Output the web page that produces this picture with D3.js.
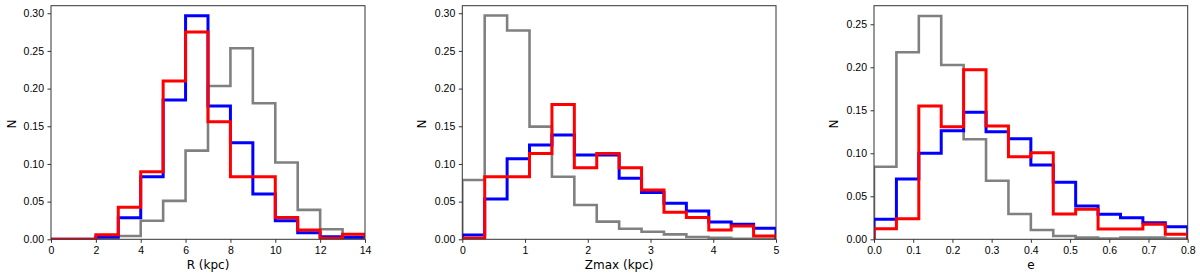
<!DOCTYPE html>
<html>
<head>
<meta charset="utf-8">
<script src="https://cdn.jsdelivr.net/npm/d3@7"></script>
<style>
  body { margin: 0; background: #fff; }
  svg { display: block; font-family: "DejaVu Sans", sans-serif; }
  .axis path, .axis line { stroke: #333; }
  .axis text { font-size: 10.5px; fill: #000; }
  .label { font-size: 12px; fill: #000; }
</style>
</head>
<body>
<svg width="1200" height="273"></svg>
<script>
// per-bin histogram heights (14 bins each)
var rGray = [0, 0, 0.002, 0.0044, 0.0247, 0.051, 0.1177, 0.2035, 0.2536, 0.1806, 0.102, 0.039, 0.0133, 0.002];
var rBlue = [0, 0, 0.003, 0.0287, 0.083, 0.185, 0.2965, 0.177, 0.128, 0.060, 0.0247, 0.0088, 0.0035, 0.0027];
var rRed  = [0, 0, 0.006, 0.0425, 0.0898, 0.210, 0.275, 0.156, 0.083, 0.083, 0.029, 0.0123, 0.0013, 0.0066];

var zGray = [0.0787, 0.297, 0.277, 0.1495, 0.083, 0.0455, 0.0234, 0.014, 0.010, 0.0066, 0.003, 0.002, 0.0008, 0.0005];
var zBlue = [0.0057, 0.0535, 0.107, 0.125, 0.1385, 0.112, 0.112, 0.081, 0.062, 0.048, 0.0376, 0.023, 0.020, 0.0146];
var zRed  = [0.0013, 0.083, 0.083, 0.114, 0.179, 0.095, 0.114, 0.095, 0.0655, 0.036, 0.029, 0.0123, 0.0177, 0.0044];

var eGray = [0.0844, 0.2174, 0.2597, 0.2027, 0.1163, 0.068, 0.0294, 0.0108, 0.0038, 0.0019, 0.001, 0.002, 0.002, 0.001];
var eBlue = [0.0233, 0.070, 0.100, 0.1263, 0.1477, 0.125, 0.117, 0.0864, 0.0663, 0.0387, 0.029, 0.025, 0.0193, 0.0147];
var eRed  = [0.0124, 0.024, 0.155, 0.131, 0.197, 0.1317, 0.096, 0.1007, 0.0294, 0.035, 0.012, 0.012, 0.0174, 0.0058];

var rTicks = [0, 2, 4, 6, 8, 10, 12, 14];
var zTicks = [0, 1, 2, 3, 4, 5];
var eTicks = [0, 0.1, 0.2, 0.3, 0.4, 0.5, 0.6, 0.7, 0.8];
var nTicks12 = [0, 0.05, 0.10, 0.15, 0.20, 0.25, 0.30];
var nTicks3 = [0, 0.05, 0.10, 0.15, 0.20, 0.25];

var svg = d3.select("svg");
var top0 = 5.7, bottom0 = 239.3;

var panels = [
  {x0: 51, x1: 365, xmax: 14, ymax: 0.310, xticks: rTicks, yticks: nTicks12, xfmt: d3.format("d"),
   xlabel: "R (kpc)", ylabelX: 12, series: [rGray, rBlue, rRed]},
  {x0: 462.3, x1: 776, xmax: 5, ymax: 0.310, xticks: zTicks, yticks: nTicks12, xfmt: d3.format("d"),
   xlabel: "Zmax (kpc)", ylabelX: 422, series: [zGray, zBlue, zRed]},
  {x0: 874, x1: 1187.7, xmax: 0.8, ymax: 0.2716, xticks: eTicks, yticks: nTicks3, xfmt: d3.format(".1f"),
   xlabel: "e", ylabelX: 834, series: [eGray, eBlue, eRed]}
];

var colors = ["#808080", "#0000ff", "#ff0000"];
var widths = [2.6, 3, 3];

panels.forEach(function(p, i) {
  var x = d3.scaleLinear().domain([0, p.xmax]).range([p.x0, p.x1]);
  var y = d3.scaleLinear().domain([0, p.ymax]).range([bottom0, top0]);
  var nb = p.series[0].length;
  var edges = d3.range(nb + 1).map(function(k) { return k * p.xmax / nb; });

  svg.append("clipPath").attr("id", "clip" + i)
    .append("rect")
    .attr("x", p.x0).attr("y", top0)
    .attr("width", p.x1 - p.x0).attr("height", bottom0 - top0);

  var g = svg.append("g").attr("clip-path", "url(#clip" + i + ")");

  var line = d3.line()
      .x(function(d) { return x(d[0]); })
      .y(function(d) { return y(d[1]); })
      .curve(d3.curveStepAfter);

  p.series.forEach(function(vals, s) {
    var pts = [[edges[0], 0]];
    vals.forEach(function(v, k) { pts.push([edges[k], v]); });
    pts.push([edges[nb], vals[nb - 1]]);
    pts.push([edges[nb], 0]);
    g.append("path")
      .attr("d", line(pts))
      .attr("fill", "none")
      .attr("stroke", colors[s])
      .attr("stroke-width", widths[s])
      .attr("stroke-linejoin", "miter");
  });

  // frame
  svg.append("rect")
    .attr("x", p.x0).attr("y", top0)
    .attr("width", p.x1 - p.x0).attr("height", bottom0 - top0)
    .attr("fill", "none").attr("stroke", "#333").attr("stroke-width", 1);

  svg.append("g")
    .attr("class", "axis")
    .attr("transform", "translate(0," + bottom0 + ")")
    .call(d3.axisBottom(x).tickValues(p.xticks).tickFormat(p.xfmt).tickSize(3.5).tickPadding(3.5))
    .call(function(a) { a.select(".domain").remove(); });

  svg.append("g")
    .attr("class", "axis")
    .attr("transform", "translate(" + p.x0 + ",0)")
    .call(d3.axisLeft(y).tickValues(p.yticks).tickFormat(d3.format(".2f")).tickSize(3.5).tickPadding(3.5))
    .call(function(a) { a.select(".domain").remove(); });

  svg.append("text")
    .attr("class", "label")
    .attr("x", (p.x0 + p.x1) / 2)
    .attr("y", 269)
    .attr("text-anchor", "middle")
    .text(p.xlabel);

  svg.append("text")
    .attr("class", "label")
    .attr("transform", "translate(" + (p.ylabelX + 4) + "," + 124 + ") rotate(-90)")
    .attr("text-anchor", "middle")
    .text("N");
});
</script>
</body>
</html>
